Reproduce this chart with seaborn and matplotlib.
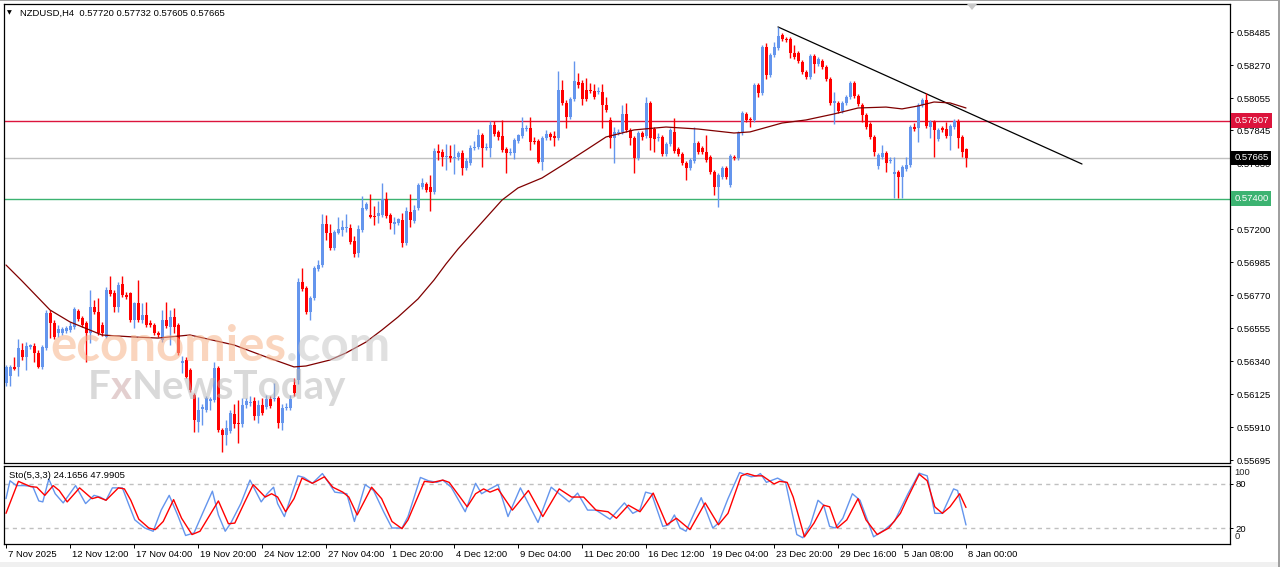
"""
NZDUSD H4 chart with 100-period MA and Stochastic(5,3,3)
"""

import numpy as np
import matplotlib
matplotlib.use('Agg')
import matplotlib.pyplot as plt
import matplotlib.transforms as mtransforms
from matplotlib.patches import Polygon, Rectangle
import seaborn as sns

# candle prices in points (1 point = 0.00001)
open_pts = [
    56198, 56244, 56303, 56303, 56413, 56368, 56433, 56439, 56394, 56303,
    56426, 56654, 56589, 56524, 56524, 56537, 56544, 56563, 56667, 56622,
    56589, 56524, 56693, 56661, 56576, 56498, 56804, 56785, 56693, 56843,
    56772, 56785, 56609, 56720, 56609, 56641, 56589, 56576, 56524, 56478,
    56609, 56563, 56628, 56576, 56329, 56348, 56283, 56120, 55944, 56029,
    56022, 56081, 56088, 56296, 55892, 55859, 55886, 55996, 55938, 55931,
    56055, 56068, 56081, 55983, 56055, 56042, 56094, 56094, 56101, 55938,
    56035, 56035, 56185, 56218, 56856, 56817, 56661, 56752, 56941, 56967,
    57234, 57176, 57078, 57176, 57195, 57208, 57208, 57123, 57045, 57195,
    57332, 57293, 57286, 57286, 57293, 57397, 57293, 57234, 57241, 57260,
    57110, 57312, 57254, 57338, 57475, 57495, 57475, 57443, 57710, 57703,
    57671, 57677, 57664, 57671, 57697, 57599, 57632, 57729, 57736, 57814,
    57729, 57729, 57879, 57834, 57808, 57723, 57697, 57697, 57775, 57808,
    57853, 57860, 57775, 57775, 57638, 57794, 57821, 57808, 57794, 58107,
    58023, 57931, 58049, 58159, 58153, 58107, 58107, 58101, 58094, 58094,
    58009, 57912, 57794, 57827, 57834, 57951, 57847, 57794, 57664, 57827,
    57808, 58023, 57853, 57794, 57801, 57690, 57755, 57834, 57723, 57690,
    57632, 57599, 57645, 57762, 57729, 57703, 57671, 57573, 57475, 57540,
    57599, 57488, 57671, 57664, 57827, 57951, 57918, 57912, 58140, 58088,
    58387, 58205, 58335, 58381, 58465, 58439, 58439, 58348, 58348, 58290,
    58224, 58192, 58329, 58277, 58296, 58257, 58179, 58023, 58023, 57970,
    58023, 58062, 58153, 58068, 58009, 57944, 57886, 57801, 57612, 57671,
    57697, 57645, 57560, 57573, 57540, 57593, 57619, 57866, 57860, 58009,
    58042, 57866, 57899, 57788, 57860, 57853, 57808, 57866, 57905, 57801,
    57720,
]
high_pts = [
    56316, 56316, 56368, 56485, 56459, 56465, 56452, 56459, 56413, 56446,
    56674, 56674, 56609, 56576, 56563, 56570, 56596, 56693, 56680, 56635,
    56602, 56804, 56739, 56752, 56596, 56824, 56895, 56804, 56856, 56895,
    56791, 56791, 56726, 56869, 56720, 56726, 56609, 56589, 56537, 56674,
    56726, 56674, 56687, 56589, 56374, 56368, 56296, 56133, 56107, 56061,
    56114, 56107, 56335, 56309, 55905, 55957, 56022, 56061, 56088, 56101,
    56101, 56114, 56107, 56088, 56101, 56120, 56114, 56198, 56114, 56061,
    56068, 56120, 56231, 56882, 56948, 56830, 56765, 56961, 57000, 57299,
    57293, 57234, 57195, 57280, 57260, 57299, 57234, 57156, 57228, 57417,
    57378, 57430, 57351, 57384, 57501, 57443, 57306, 57280, 57273, 57306,
    57345, 57430, 57358, 57501, 57534, 57508, 57553, 57729, 57755, 57723,
    57755, 57749, 57755, 57710, 57716, 57664, 57749, 57775, 57853, 57827,
    57762, 57905, 57905, 57847, 57912, 57736, 57729, 57794, 57821, 57931,
    57879, 57931, 57801, 57788, 57808, 57847, 57834, 57840, 58231, 58172,
    58042, 58062, 58296, 58218, 58172, 58185, 58153, 58146, 58127, 58146,
    58062, 57931, 57866, 57853, 58009, 58023, 57860, 57808, 57840, 57840,
    58062, 58036, 57866, 57827, 57814, 57768, 57860, 57925, 57736, 57703,
    57645, 57664, 57866, 57775, 57742, 57814, 57684, 57586, 57566, 57612,
    57612, 57690, 57684, 57840, 57970, 57964, 57931, 58153, 58153, 58400,
    58413, 58348, 58420, 58518, 58478, 58452, 58452, 58400, 58361, 58303,
    58237, 58342, 58342, 58322, 58309, 58270, 58192, 58094, 58036, 58036,
    58075, 58166, 58166, 58081, 58023, 57957, 57899, 57814, 57697, 57749,
    57710, 57671, 57671, 57586, 57619, 57671, 57879, 57892, 58023, 58055,
    58088, 57912, 57912, 57860, 57873, 57899, 57886, 57918, 57918, 57814,
    57732,
]
low_pts = [
    56179, 56179, 56283, 56244, 56348, 56283, 56420, 56335, 56296, 56290,
    56413, 56491, 56485, 56498, 56511, 56524, 56531, 56550, 56602, 56563,
    56335, 56459, 56648, 56511, 56505, 56491, 56765, 56661, 56661, 56759,
    56746, 56596, 56557, 56596, 56589, 56563, 56563, 56511, 56498, 56465,
    56557, 56446, 56524, 56381, 56263, 56231, 56140, 55879, 55879, 55925,
    56009, 56022, 56075, 55879, 55749, 55794, 55872, 55905, 55807, 55912,
    56035, 56048, 55957, 55938, 55990, 56029, 56035, 56081, 55905, 55892,
    56022, 56022, 56114, 56192, 56798, 56648, 56609, 56739, 56928, 56954,
    57130, 57065, 57065, 57169, 57156, 57182, 57104, 57019, 57019, 57182,
    57325, 57273, 57228, 57241, 57280, 57273, 57202, 57169, 57228, 57084,
    57097, 57215, 57241, 57325, 57462, 57443, 57319, 57430, 57651, 57612,
    57586, 57638, 57560, 57651, 57553, 57586, 57619, 57716, 57723, 57606,
    57716, 57671, 57808, 57781, 57703, 57566, 57684, 57658, 57762, 57794,
    57840, 57716, 57755, 57632, 57586, 57781, 57781, 57742, 57781, 58009,
    57860, 57918, 58036, 58120, 58009, 58036, 58088, 58049, 58081, 57860,
    57964, 57729, 57632, 57814, 57821, 57834, 57749, 57566, 57651, 57781,
    57794, 57716, 57703, 57775, 57677, 57677, 57742, 57697, 57677, 57619,
    57521, 57586, 57632, 57690, 57690, 57638, 57560, 57423, 57345, 57527,
    57527, 57475, 57651, 57651, 57814, 57899, 57866, 57899, 58062, 58075,
    58179, 58192, 58322, 58368, 58426, 58420, 58316, 58309, 58283, 58211,
    58179, 58179, 58218, 58264, 58244, 58166, 58009, 57886, 57957, 57957,
    58009, 58049, 58055, 58003, 57899, 57853, 57788, 57677, 57593, 57658,
    57573, 57632, 57404, 57404, 57404, 57579, 57606, 57840, 57768, 57996,
    57860, 57794, 57671, 57775, 57834, 57794, 57716, 57853, 57729, 57671,
    57605,
]
close_pts = [
    56303, 56303, 56290, 56426, 56368, 56439, 56446, 56394, 56303, 56433,
    56654, 56589, 56498, 56550, 56550, 56557, 56570, 56680, 56615, 56576,
    56524, 56693, 56661, 56524, 56524, 56804, 56778, 56693, 56837, 56772,
    56759, 56609, 56720, 56609, 56641, 56576, 56576, 56524, 56511, 56609,
    56570, 56628, 56563, 56394, 56342, 56237, 56153, 55957, 56022, 56042,
    56101, 56094, 56296, 55892, 55859, 55905, 56003, 55931, 55931, 56055,
    56081, 56075, 55983, 56055, 56003, 56094, 56048, 56101, 55938, 56035,
    56042, 56094, 56133, 56856, 56811, 56661, 56752, 56948, 56967, 57234,
    57176, 57078, 57182, 57202, 57215, 57215, 57117, 57039, 57202, 57338,
    57364, 57280, 57280, 57306, 57397, 57286, 57241, 57247, 57267, 57110,
    57319, 57260, 57325, 57488, 57501, 57456, 57443, 57710, 57697, 57671,
    57677, 57664, 57671, 57697, 57599, 57645, 57729, 57736, 57814, 57729,
    57736, 57879, 57821, 57801, 57716, 57697, 57703, 57781, 57814, 57860,
    57860, 57768, 57768, 57638, 57794, 57821, 57801, 57794, 58107, 58023,
    57931, 58049, 58166, 58140, 58049, 58049, 58101, 58062, 58101, 58009,
    57977, 57794, 57834, 57834, 57951, 57847, 57794, 57664, 57827, 57801,
    58023, 57794, 57788, 57801, 57690, 57755, 57847, 57710, 57690, 57632,
    57599, 57651, 57762, 57703, 57703, 57651, 57573, 57475, 57553, 57599,
    57540, 57677, 57664, 57827, 57957, 57912, 57912, 58140, 58088, 58387,
    58205, 58335, 58387, 58459, 58439, 58433, 58348, 58322, 58296, 58224,
    58192, 58329, 58277, 58309, 58257, 58179, 58023, 58036, 57970, 58023,
    58062, 58153, 58068, 58016, 57944, 57866, 57801, 57703, 57684, 57697,
    57632, 57651, 57573, 57540, 57606, 57619, 57866, 57853, 58009, 58042,
    57873, 57899, 57847, 57847, 57847, 57808, 57873, 57905, 57794, 57703,
    57665,
]

# moving average, read at a few bars
ma_bars = [0, 4, 11, 16, 24, 32, 38, 46, 57, 65,
           72, 75, 81, 85, 90, 94, 98, 103, 107, 110,
           113, 124, 128, 134, 140, 145, 150, 157, 165, 173,
           182, 186, 194, 200, 207, 213, 220, 224, 228, 232,
           236, 240]
ma_pts = [56967, 56863, 56674, 56596, 56511, 56498, 56491, 56511, 56446, 56368,
          56303, 56309, 56348, 56394, 56465, 56544, 56628, 56746, 56869, 56974,
          57071, 57390, 57469, 57534, 57632, 57716, 57801, 57847, 57866, 57853,
          57827, 57834, 57892, 57912, 57951, 57990, 57996, 57984, 58003, 58029,
          58023, 57990]

# stochastic %K (main) and %D (signal), read at turning points
sto_k_bars = [0, 1, 2.6, 4.6, 6.7, 8.2, 9.2, 10.7, 12.3, 14.3,
              17.4, 19.9, 22, 23.5, 25, 26.6, 29.1, 30.6, 32.2, 34.7,
              36.8, 38.8, 40.8, 42.9, 44.9, 47, 49.5, 51.6, 53.1, 54.8,
              56.2, 58.7, 61, 63.8, 65.3, 66.9, 67.9, 69.6, 71.5, 73,
              74.5, 76.6, 79.1, 80.6, 82.2, 85.2, 87.1, 89.8, 91.9, 94.4,
              96.5, 99, 100.5, 103.6, 105.6, 107.7, 109.2, 111.3, 114.8, 117.4,
              118.9, 121, 123, 125.5, 128.6, 130.6, 133, 136.3, 138.8, 140.8,
              142.9, 145.4, 147.5, 151, 154.6, 156.7, 158.5, 159.9, 161.4, 164.2,
              165.7, 167.1, 168.5, 170, 173.8, 176.7, 178.1, 180.5, 183.4, 186.3,
              187.7, 188.6, 190.1, 192.9, 194.9, 197.7, 199.2, 201.1, 203, 204.4,
              205.9, 207.3, 209.2, 211.6, 213.5, 216.9, 219.7, 222.1, 225.5, 228.3,
              230.3, 232.2, 234.1, 236.9, 237.9, 240]
sto_k = [60, 84.4, 77.8, 77.8, 76.4, 56.9, 55.6, 86.7, 66.7, 54.2,
         77.8, 53.3, 64.5, 62.2, 57.8, 74.7, 74.7, 53.3, 31.1, 20,
         15.6, 44.4, 64.5, 37.8, 9.8, 13.3, 44.4, 70.2, 37.8, 15.6,
         26.7, 53.3, 85.3, 55.6, 66.7, 75.6, 53.3, 35.6, 66.7, 91.1,
         88.9, 80.9, 94.2, 82.2, 68.9, 66.7, 28.9, 79.1, 71.1, 42.2,
         20, 20, 35.6, 88.9, 84.4, 82.2, 85.3, 75.6, 42.2, 80.9,
         66.7, 73.3, 79.1, 35.6, 74.7, 53.3, 27.6, 75.6, 64.5, 55.6,
         67.6, 44.4, 44.4, 32, 54.2, 40, 45, 68.9, 66.7, 22.2,
         24.4, 37.8, 20, 15.6, 61.3, 20, 26.7, 60, 95.6, 89.8,
         91.1, 94.2, 82.2, 88, 82.2, 11.1, 6.7, 24.4, 57.8, 51.1,
         22.2, 20, 33.3, 66.7, 57.8, 8, 17.8, 28.9, 66.7, 94.7,
         91.1, 40, 40, 73.3, 71.1, 24.1656]
sto_d_bars = [0, 3.1, 4.6, 6.2, 7.7, 9.7, 11.8, 13.3, 15.3, 18.4,
              21.5, 23, 25, 28.1, 29.6, 31.2, 33.2, 35.7, 37.3, 39.3,
              41.9, 43.9, 46.5, 48.5, 53.1, 55.6, 57.2, 59.7, 61.8, 64.8,
              66.4, 67.9, 69.9, 72, 74, 76.6, 79.6, 81.7, 84.2, 85.7,
              87.8, 91.4, 93.9, 96.5, 99, 100.5, 104.6, 106.7, 109.2, 110.8,
              115.3, 117.4, 119.4, 121, 123, 126.6, 130.6, 134.2, 138.3, 141.4,
              144.4, 147.5, 150.5, 152.6, 155.6, 158.5, 161.8, 165.2, 167.6, 171,
              174.8, 178.1, 180.5, 183.8, 185.3, 187.2, 189.1, 192, 193.4, 195.3,
              196.8, 199.6, 202, 204.4, 205.9, 207.8, 210.2, 213, 215, 217.8,
              220.7, 223.6, 225.5, 228.3, 230.3, 232.2, 234.1, 236, 238.4, 240]
sto_d = [40, 83.6, 80, 76.4, 75.6, 64.5, 77.8, 71.1, 55.6, 74.7,
         60, 62.2, 57.8, 74.7, 73.3, 57.8, 32, 20, 17.8, 28.9,
         58.7, 33.3, 11.1, 15.6, 56.9, 25.8, 26.7, 55.6, 79.1, 62.2,
         66.7, 62.2, 42.2, 60, 88, 80.9, 89.8, 75.6, 68.9, 62.2,
         37.8, 75.6, 60, 28.9, 19.1, 31.1, 83.6, 82.2, 85.3, 82.2,
         48.9, 66.7, 73.3, 68.9, 73.3, 44.4, 71.1, 35.6, 73.3, 62.2,
         62.2, 44.4, 42.2, 33.3, 51.1, 42.2, 67.6, 24.4, 33.3, 17.8,
         54.2, 24.4, 40, 91.1, 94.2, 91.1, 91.1, 80, 83.6, 82.2,
         62.2, 8, 26.7, 51.1, 48.9, 20, 31.1, 60, 31.1, 11.1,
         20, 40, 62.2, 93.3, 84.4, 48.9, 40, 48.9, 66.7, 47.9905]

# axis text
time_labels = ["7 Nov 2025", "12 Nov 12:00", "17 Nov 04:00", "19 Nov 20:00",
               "24 Nov 12:00", "27 Nov 04:00", "1 Dec 20:00", "4 Dec 12:00",
               "9 Dec 04:00", "11 Dec 20:00", "16 Dec 12:00", "19 Dec 04:00",
               "23 Dec 20:00", "29 Dec 16:00", "5 Jan 08:00", "8 Jan 00:00"]
time_label_bars = [0, 16, 32, 48, 64, 80, 96, 112, 128, 144, 160, 176, 192, 208, 224, 240]
price_ticks = [0.58485, 0.58270, 0.58055, 0.57845, 0.57630, 0.57415, 0.57200,
               0.56985, 0.56770, 0.56555, 0.56340, 0.56125, 0.55910, 0.55695]

# horizontal levels
level_prices = [0.57907, 0.57665, 0.57400]
level_colors = ['#DC143C', '#C0C0C0', '#3CB371']
level_box_colors = ['#DC143C', '#000000', '#3CB371']
# trend line
trend_bars = [193, 269]
trend_pts = [58518, 57625]

BULL = '#6495ED'
BEAR = '#FF0000'
FS = 6.8

sns.set_theme(style='white')
plt.rcParams['font.family'] = ['Liberation Sans', 'DejaVu Sans']

W, H = 1280, 567
fig = plt.figure(figsize=(W / 100, H / 100), dpi=100)
fig.patch.set_facecolor('white')


def fx(px):
    return px / W


def fy(py):
    return 1 - py / H


ax = fig.add_axes([fx(4), fy(463), fx(1230) - fx(4), fy(4) - fy(463)])
ax2 = fig.add_axes([fx(4), fy(543.5), fx(1230) - fx(4), fy(466) - fy(543.5)])

o = np.array(open_pts) / 1e5
h = np.array(high_pts) / 1e5
l = np.array(low_pts) / 1e5
c = np.array(close_pts) / 1e5
bars = np.arange(len(c))
colors = np.where(c >= o, BULL, BEAR)

# levels and trend line
for p, col in zip(level_prices, level_colors):
    ax.axhline(p, color=col, lw=1.0, zorder=1)
ax.plot(trend_bars, np.array(trend_pts) / 1e5, color='black', lw=0.9, zorder=2)

# candles
ax.vlines(bars, l, h, colors=colors, lw=1.0, zorder=3)
body_low = np.minimum(o, c)
body_h = np.maximum(np.abs(c - o), 0.00007)
ax.bar(bars, body_h, bottom=body_low, width=0.75, color=colors, linewidth=0, zorder=4)

# moving average
sns.lineplot(x=ma_bars, y=np.array(ma_pts) / 1e5, ax=ax, color='#800000', lw=0.9, zorder=5)

ax.set_xlim(-0.5, 306)
ax.set_ylim(0.556770, 0.586675)
ax.set_xlabel('')
ax.set_ylabel('')
ax.yaxis.tick_right()
ax.set_yticks(price_ticks)
ax.set_yticklabels([f'{v:.5f}' for v in price_ticks])
ax.tick_params(axis='y', which='both', direction='out', length=2.2, width=0.7,
               pad=2.5, labelsize=FS, colors='black', right=True, left=False)
ax.tick_params(axis='x', bottom=False, labelbottom=False)

# level labels on the price axis
blend = mtransforms.blended_transform_factory(ax.transAxes, ax.transData)
for p, col in zip(level_prices, level_box_colors):
    ax.text(1.0035, p, f'{p:.5f}', transform=blend, ha='left', va='center',
            fontsize=FS, color='white', zorder=10, clip_on=False,
            bbox=dict(boxstyle='square,pad=0.3', fc=col, ec='none'))

# stochastic
sns.lineplot(x=sto_k_bars, y=sto_k, ax=ax2, color=BULL, lw=1.0)
sns.lineplot(x=sto_d_bars, y=sto_d, ax=ax2, color=BEAR, lw=1.0)
for lev in (20, 80):
    ax2.axhline(lev, color='#C0C0C0', lw=1.0, ls=(0, (3, 3)), zorder=0)
ax2.set_xlim(-0.5, 306)
ax2.set_ylim(-1.1, 104.5)
ax2.set_xlabel('')
ax2.set_ylabel('')
ax2.yaxis.tick_right()
ax2.set_yticks([20, 80])
ax2.set_yticklabels(['20', '80'])
ax2.tick_params(axis='y', direction='out', length=2.2, width=0.7, pad=2.0,
                labelsize=FS, colors='black', right=True, left=False)
blend2 = mtransforms.blended_transform_factory(ax2.transAxes, ax2.transData)
ax2.text(1.0035, 95.5, '100', transform=blend2, ha='left', va='center', fontsize=FS, clip_on=False)
ax2.text(1.0035, 8.0, '0', transform=blend2, ha='left', va='center', fontsize=FS, clip_on=False)

ax2.set_xticks(time_label_bars)
ax2.set_xticklabels(time_labels)
ax2.tick_params(axis='x', direction='out', length=3, width=0.7, pad=2.0,
                labelsize=FS, colors='black', bottom=True)
offset = mtransforms.ScaledTranslation(1.5 / 100, 0, fig.dpi_scale_trans)
for lbl in ax2.get_xticklabels():
    lbl.set_horizontalalignment('left')
    lbl.set_transform(lbl.get_transform() + offset)

for a in (ax, ax2):
    a.set_facecolor('white')
    for sp in a.spines.values():
        sp.set_color('black')
        sp.set_linewidth(0.9)

# header texts
fig.text(fx(7), fy(13), '\u25bc', fontsize=4.5, color='black', va='center', ha='left',
         family='DejaVu Sans')
fig.text(fx(20), fy(13), 'NZDUSD,H4  0.57720 0.57732 0.57605 0.57665',
         fontsize=FS, color='black', va='center', ha='left')
fig.text(fx(9), fy(476), 'Sto(5,3,3) 24.1656 47.9905', fontsize=FS, color='black',
         va='center', ha='left')

# watermark, pieces chained one after another
fig.canvas.draw()
renderer = fig.canvas.get_renderer()


def chain(x_px, y_px, parts, size):
    for txt, col, alpha in parts:
        t = fig.text(fx(x_px), fy(y_px), txt, fontsize=size, color=col, alpha=alpha,
                     family='Lato', weight='bold', va='baseline', ha='left', zorder=20)
        x_px += t.get_window_extent(renderer).width


chain(50, 361, [('economies', '#F7B48A', 0.55), ('.com', '#C8C8C8', 0.55)], 35.5)
chain(88, 399, [('F', '#B4B4B4', 0.5), ('x', '#C9A0A0', 0.5),
                ('NewsToday', '#B4B4B4', 0.5)], 29)

# chart shift marker and window edges
fig.add_artist(Polygon([[fx(967), fy(4)], [fx(977), fy(4)], [fx(972), fy(10)]],
                       closed=True, fc='#C8C8C8', ec='none', transform=fig.transFigure))
fig.add_artist(Rectangle((0, 0), 1, fy(562), fc='#F0F0F0', ec='none', transform=fig.transFigure))
fig.add_artist(Rectangle((fx(1278), 0), fx(2), 1, fc='#A0A0A0', ec='none', transform=fig.transFigure))
fig.add_artist(Rectangle((0, fy(1)), 1, 1 / H, fc='#A0A0A0', ec='none', transform=fig.transFigure))

fig.savefig('out.png', dpi=100, facecolor='white')
